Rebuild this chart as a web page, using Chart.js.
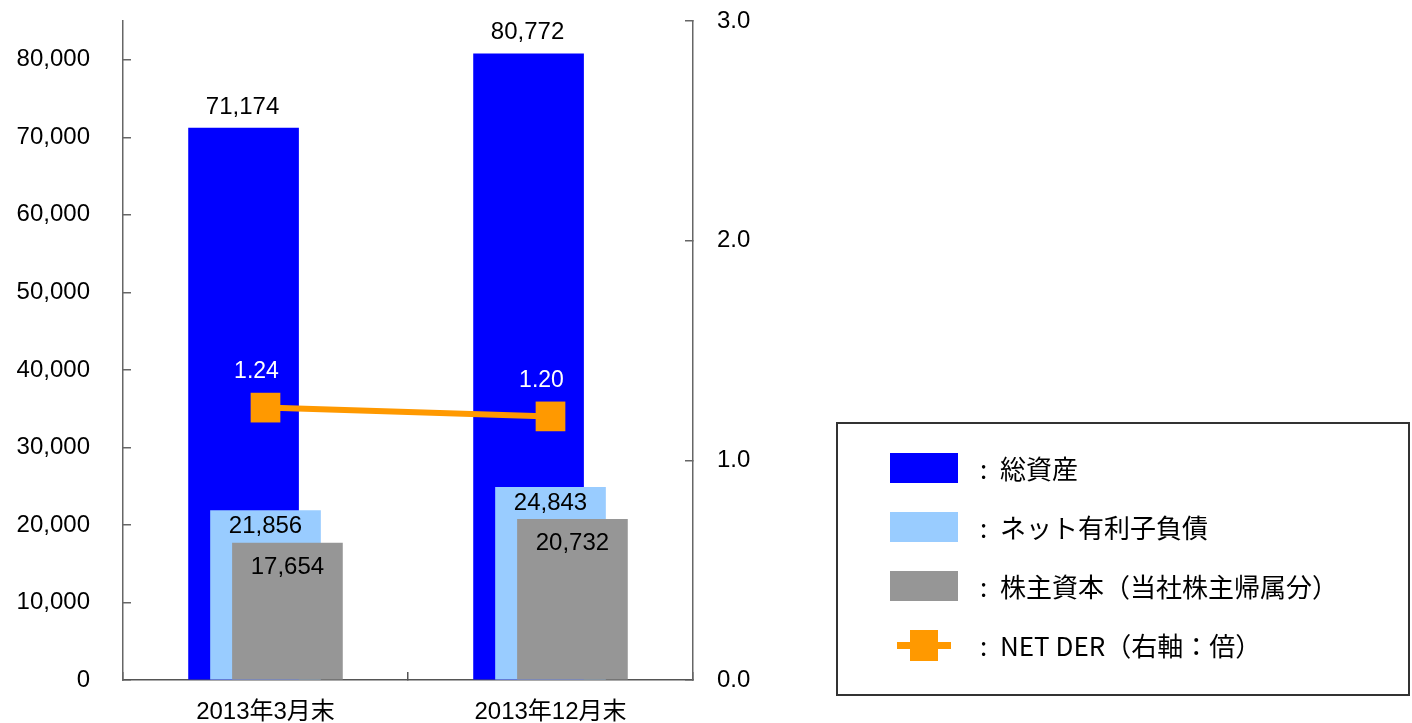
<!DOCTYPE html>
<html lang="ja">
<head>
<meta charset="UTF-8">
<title>総資産・ネット有利子負債・株主資本</title>
<style>
  body { margin: 0; background: #fff; }
  .wrap { position: relative; width: 1412px; height: 723px; }
  #legend {
    position: absolute; left: 836px; top: 422px; width: 574px; height: 274px;
    box-sizing: border-box; border: 2px solid #333; padding-top: 14px;
    font-family: 'Noto Sans CJK JP', sans-serif; font-size: 26px; color: #000;
  }
  .legend-row { display: flex; align-items: center; height: 59px; padding-left: 52px; }
  .swatch { width: 68px; height: 30px; margin-right: 22px; position: relative; }
  .colon { display: inline-block; width: 20px; }
  .line-mark { position: absolute; left: 7px; top: 12px; width: 54px; height: 7px; }
  .line-dot { position: absolute; left: 20px; top: 0; width: 28px; height: 31px; }
</style>
</head>
<body>
<div class="wrap">
  <canvas id="myChart" width="1412" height="723"></canvas>
  <div id="legend"></div>
</div>
<script src="https://cdn.jsdelivr.net/npm/chart.js"></script>
<script>
  // data
  const categories = ['2013年3月末', '2013年12月末'];
  const seriesNames = ['総資産', 'ネット有利子負債', '株主資本（当社株主帰属分）', 'NET DER（右軸：倍）'];
  const totalAssets = [71174, 80772];
  const netDebt = [21856, 24843];
  const equity = [17654, 20732];
  const netDer = [1.24, 1.20];
  const leftTicks = [0, 10000, 20000, 30000, 40000, 50000, 60000, 70000, 80000];
  const rightTicks = [0, 1, 2, 3];

  const colors = ['#0000ff', '#99ccff', '#969696', '#ff9900'];
  const barShift = 0.077;
  const numFont = "'Liberation Sans', 'Noto Sans CJK JP', sans-serif";

  function points(arr, shift) {
    return arr.map((v, i) => ({ x: i + shift, y: v }));
  }
  const fmtInt = v => v.toLocaleString('en-US');

  // value labels on bars and points
  const valueLabels = {
    id: 'valueLabels',
    afterDatasetsDraw(chart) {
      const ctx = chart.ctx;
      chart.data.datasets.forEach((ds, di) => {
        const lab = ds.valueLabel;
        if (!lab) return;
        chart.getDatasetMeta(di).data.forEach((el, i) => {
          ctx.save();
          ctx.font = lab.font;
          ctx.fillStyle = lab.color;
          ctx.textAlign = 'center';
          ctx.textBaseline = 'middle';
          ctx.fillText(lab.format(ds.data[i].y), el.x + lab.dx, el.y + lab.dy);
          ctx.restore();
        });
      });
    }
  };

  Chart.defaults.font.family = numFont;
  Chart.defaults.font.size = 24;
  Chart.defaults.color = '#000';

  const noPad = s => { s.paddingTop = 0; s.paddingBottom = 0; };

  const ctx = document.getElementById('myChart');
  const myChart = new Chart(ctx, {
    type: 'bar',
    data: {
      datasets: [
        {
          type: 'line',
          label: seriesNames[3],
          data: points(netDer, 0),
          yAxisID: 'y1',
          order: 0,
          borderColor: colors[3],
          borderWidth: 6,
          pointStyle: 'rect',
          pointRadius: 21,
          pointBackgroundColor: colors[3],
          pointBorderWidth: 0,
          valueLabel: { font: '23px ' + numFont, color: '#fff', dx: -9, dy: -36, format: v => v.toFixed(2) }
        },
        {
          label: seriesNames[2],
          data: points(equity, barShift),
          backgroundColor: colors[2],
          order: 1,
          valueLabel: { font: '24px ' + numFont, color: '#000', dx: 0, dy: 24, format: fmtInt }
        },
        {
          label: seriesNames[1],
          data: points(netDebt, 0),
          backgroundColor: colors[1],
          order: 2,
          valueLabel: { font: '24px ' + numFont, color: '#000', dx: 0, dy: 16, format: fmtInt }
        },
        {
          label: seriesNames[0],
          data: points(totalAssets, -barShift),
          backgroundColor: colors[0],
          order: 3,
          valueLabel: { font: '24px ' + numFont, color: '#000', dx: -1, dy: -21, format: fmtInt }
        }
      ]
    },
    options: {
      responsive: false,
      animation: false,
      layout: { padding: { left: 0, top: 19, right: 639, bottom: 0 } },
      datasets: { bar: { barThickness: 110, grouped: false, borderWidth: 0 } },
      plugins: { legend: { display: false }, tooltip: { enabled: false } },
      scales: {
        x: {
          type: 'linear',
          min: -0.5,
          max: 1.5,
          offset: false,
          afterBuildTicks: s => { s.ticks = categories.map((c, i) => ({ value: i })); },
          afterFit: s => { s.height = 43; s.paddingLeft = 0; s.paddingRight = 0; },
          ticks: { padding: 26, callback: v => categories[v] },
          grid: { offset: true, drawOnChartArea: false, tickLength: -8, color: '#555', lineWidth: 1.5 },
          border: { color: '#555', width: 1.5 }
        },
        y: {
          position: 'left',
          min: 0,
          max: 85000,
          afterBuildTicks: s => { s.ticks = leftTicks.map(v => ({ value: v })); },
          afterFit: s => { s.width = 123; noPad(s); },
          ticks: { padding: 41, callback: v => fmtInt(v) },
          grid: { drawOnChartArea: false, tickLength: -8, color: '#666', lineWidth: 1.5 },
          border: { color: '#666', width: 1.5 }
        },
        y1: {
          position: 'right',
          min: 0,
          max: 3,
          afterBuildTicks: s => { s.ticks = rightTicks.map(v => ({ value: v })); },
          afterFit: s => { s.width = 80; noPad(s); },
          ticks: { padding: 32, callback: v => v.toFixed(1) },
          grid: { drawOnChartArea: false, tickLength: -8, color: '#666', lineWidth: 1.5 },
          border: { color: '#666', width: 1.5 }
        }
      }
    },
    plugins: [valueLabels]
  });

  // legend
  const legend = document.getElementById('legend');
  seriesNames.forEach((name, i) => {
    const row = document.createElement('div');
    row.className = 'legend-row';
    let mark;
    if (i === 3) {
      mark = "<div class='swatch'><div class='line-mark' style='background:" + colors[i] + "'></div>" +
             "<div class='line-dot' style='background:" + colors[i] + "'></div></div>";
    } else {
      mark = "<div class='swatch' style='background:" + colors[i] + "'></div>";
    }
    row.innerHTML = mark + "<span class='colon'>:</span><span>" + name + "</span>";
    legend.appendChild(row);
  });
</script>
</body>
</html>
